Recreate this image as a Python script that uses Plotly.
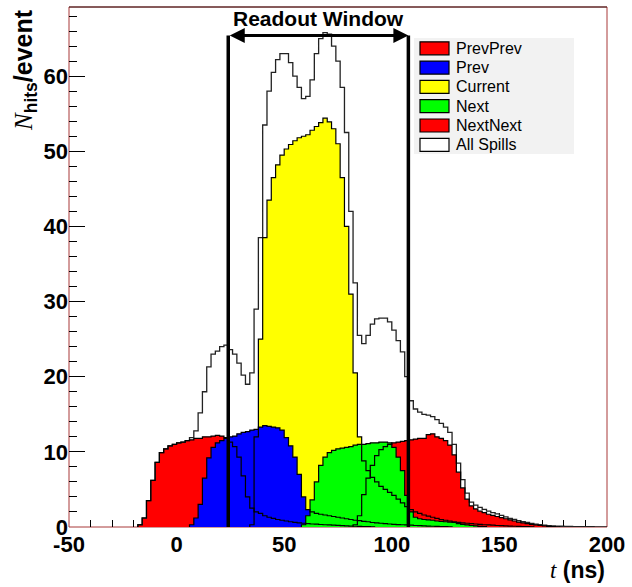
import plotly.graph_objects as go

# ---------------- data (2 ns bins) ----------------
BIN_WIDTH = 2.0
X_RANGE = [-50, 200]
Y_RANGE = [0, 69.2]
X_TICKS = [-50, 0, 50, 100, 150, 200]
Y_TICKS = [0, 10, 20, 30, 40, 50, 60]

series_names = ["PrevPrev", "Prev", "Current", "Next", "NextNext", "All Spills"]
series_colors = ["#ff0000", "#0000ff", "#ffff00", "#00ff00", "#ff0000", "#ffffff"]

prevprev_start = -18
prevprev = [0.3, 1.2, 3.5, 6.2, 8.6, 9.9, 10.4, 10.8, 11.0, 11.2, 11.3, 11.5, 11.6, 11.8, 11.8,
            12.0, 12.0, 12.1, 12.2, 12.1, 11.9, 11.3, 10.7, 9.3, 6.8, 4.0, 2.5, 2.0, 1.8, 1.5,
            1.3, 1.15, 1.0, 0.9, 0.8, 0.7, 0.62, 0.55, 0.5, 0.45, 0.4, 0.37, 0.33, 0.3, 0.27,
            0.24, 0.21, 0.18, 0.15, 0.12, 0.1, 0.08, 0.06, 0.04, 0.02]

prev_start = 6
prev = [0.3, 1.2, 3.0, 6.5, 9.2, 10.6, 11.2, 11.5, 11.8, 12.0, 12.1, 12.4, 12.6, 12.7, 12.9,
        13.0, 13.3, 13.5, 13.4, 13.3, 13.2, 12.9, 11.9, 10.8, 9.3, 7.0, 4.0, 2.3, 2.0, 1.8,
        1.7, 1.6, 1.5, 1.4, 1.3, 1.2, 1.1, 1.0, 0.9, 0.85, 0.75, 0.7, 0.6, 0.55, 0.5, 0.45,
        0.4, 0.36, 0.32, 0.3, 0.27, 0.24, 0.2, 0.17, 0.15, 0.12, 0.1, 0.08, 0.06, 0.04, 0.02]

current_start = 34
current = [0.3, 12.0, 25.0, 38.5, 43.5, 46.5, 48.2, 49.5, 50.3, 50.9, 51.4, 51.8, 52.0, 52.2,
           52.8, 53.3, 53.8, 54.4, 53.9, 53.0, 51.0, 46.5, 40.0, 31.0, 20.5, 12.0, 8.8, 7.5,
           6.6, 6.0, 5.4, 5.0, 4.6, 4.2, 3.7, 3.2, 2.7, 2.3, 2.0, 1.8, 1.6, 1.45, 1.3, 1.15,
           1.0, 0.9, 0.8, 0.7, 0.62, 0.55, 0.5, 0.45, 0.4, 0.35, 0.3, 0.27, 0.24, 0.2, 0.17,
           0.14, 0.12, 0.1, 0.08, 0.06, 0.04, 0.02]

next_start = 58
next_ = [0.3, 1.5, 3.6, 6.0, 8.2, 9.3, 9.9, 10.2, 10.4, 10.5, 10.6, 10.7, 10.9, 11.0, 11.0,
         11.1, 11.2, 11.2, 11.3, 11.3, 11.2, 10.6, 9.3, 7.5, 4.2, 2.0, 1.3, 1.1, 1.0, 0.95,
         0.9, 0.8, 0.75, 0.7, 0.65, 0.6, 0.45, 0.35, 0.28, 0.2, 0.14, 0.08, 0.04]

nextnext_start = 82
nextnext = [0.3, 1.5, 4.3, 6.5, 8.2, 9.5, 10.3, 10.7, 11.0, 11.2, 11.3, 11.4, 11.5, 11.6, 11.7,
            11.8, 11.8, 12.3, 12.4, 12.0, 11.8, 11.5, 10.9, 9.6, 7.3, 5.2, 3.7, 2.8, 2.4, 2.1,
            1.9, 1.7, 1.55, 1.4, 1.25, 1.1, 0.95, 0.8, 0.65, 0.55, 0.45, 0.35, 0.27, 0.2,
            0.14, 0.09, 0.05, 0.02]

allspills_start = -18
allspills = [0.3, 1.2, 3.5, 6.2, 8.6, 9.9, 10.4, 10.8, 11.0, 11.2, 11.3, 11.5, 11.9, 12.8, 15.2,
             18.0, 21.3, 23.0, 23.4, 24.0, 24.2, 23.6, 23.0, 21.8, 20.2, 19.0, 20.5, 29.0, 38.5,
             53.5, 58.0, 60.5, 62.2, 63.0, 63.0, 61.8, 60.0, 58.5, 57.0, 57.3, 59.5, 63.0, 65.0,
             65.8, 65.6, 64.0, 62.0, 58.5, 52.5, 42.0, 32.5, 25.5, 24.4, 25.5, 27.0, 27.7, 27.8,
             27.8, 27.3, 26.2, 24.8, 23.3, 20.0, 16.8, 15.7, 15.3, 15.0, 14.9, 14.7, 14.3, 13.8,
             13.3, 12.6, 11.0, 8.5, 6.3, 4.5, 3.3, 2.9, 2.6, 2.35, 2.1, 1.9, 1.75, 1.55, 1.35,
             1.15, 1.0, 0.85, 0.72, 0.6, 0.48, 0.38, 0.3, 0.24, 0.19, 0.15, 0.12, 0.1, 0.08,
             0.07, 0.06, 0.05, 0.04, 0.03, 0.03, 0.02, 0.02, 0.01]

readout_window = [24.0, 107.7]
readout_top = 65.4
readout_label = "Readout Window"

# ---------------- helpers ----------------
def step_xy(start, vals):
    xs, ys = [start], [0.0]
    for i, v in enumerate(vals):
        xs.append(start + i * BIN_WIDTH)
        ys.append(v)
    end = start + len(vals) * BIN_WIDTH
    xs += [end, end]
    ys += [vals[-1], 0.0]
    return xs, ys

hists = {
    "PrevPrev": (prevprev_start, prevprev),
    "Prev": (prev_start, prev),
    "Current": (current_start, current),
    "Next": (next_start, next_),
    "NextNext": (nextnext_start, nextnext),
    "All Spills": (allspills_start, allspills),
}
color_of = dict(zip(series_names, series_colors))

fig = go.Figure()

# fills (drawing order as in the original)
for name in ["Current", "PrevPrev", "NextNext", "Prev", "Next"]:
    xs, ys = step_xy(*hists[name])
    fig.add_trace(go.Scatter(x=xs, y=ys, mode="lines", line=dict(width=0, shape="hv"),
                             fill="tozeroy", fillcolor=color_of[name], showlegend=False,
                             hoverinfo="skip"))

# outlines on top
xs, ys = step_xy(*hists["All Spills"])
fig.add_trace(go.Scatter(x=xs, y=ys, mode="lines", line=dict(width=1.3, color="#222222", shape="hv"),
                         showlegend=False, hoverinfo="skip"))
for name in ["PrevPrev", "NextNext", "Current", "Prev", "Next"]:
    xs, ys = step_xy(*hists[name])
    fig.add_trace(go.Scatter(x=xs, y=ys, mode="lines", line=dict(width=1.2, color="black", shape="hv"),
                             showlegend=False, hoverinfo="skip"))

# ---------------- layout ----------------
W, H = 632, 587
ML, MR, MT, MB = 69, 25, 7, 60
PW, PH = W - ML - MR, H - MT - MB

def px_x(px):
    return (px - ML) / PW

def px_y(py):
    return (MT + PH - py) / PH

shapes = []
annotations = []

# frame
shapes.append(dict(type="rect", xref="paper", yref="paper", x0=0, x1=1, y0=0, y1=1,
                   line=dict(color="#a83838", width=1), layer="below"))
shapes.append(dict(type="line", xref="paper", yref="paper", x0=0, x1=1, y0=1, y1=1,
                   line=dict(color="#3a1a1a", width=1), layer="below"))

# readout window lines
for xw in readout_window:
    shapes.append(dict(type="line", xref="x", yref="y", x0=xw, x1=xw, y0=0, y1=readout_top,
                       line=dict(color="black", width=3.5), layer="above"))

annotations.append(dict(x=readout_window[1], y=readout_top, ax=readout_window[0], ay=readout_top,
                        xref="x", yref="y", axref="x", ayref="y", text="", showarrow=True,
                        arrowhead=2, startarrowhead=2, arrowside="end+start", arrowsize=1,
                        startarrowsize=1, arrowwidth=3, arrowcolor="black"))
annotations.append(dict(x=(readout_window[0] + readout_window[1]) / 2, y=px_y(18), xref="x", yref="paper",
                        text="<b>" + readout_label + "</b>", showarrow=False,
                        font=dict(family="Liberation Sans", size=21, color="black"),
                        xanchor="center", yanchor="middle"))

# legend (manual, ROOT style)
shapes.append(dict(type="rect", xref="paper", yref="paper", x0=px_x(414), x1=px_x(574),
                   y0=px_y(154), y1=px_y(38), fillcolor="#f2f2f2", line=dict(width=0), layer="above"))
for i, (name, col) in enumerate(zip(series_names, series_colors)):
    yc = 48.3 + i * 19.3
    shapes.append(dict(type="rect", xref="paper", yref="paper", x0=px_x(420), x1=px_x(449),
                       y0=px_y(yc + 6.5), y1=px_y(yc - 6.5), fillcolor=col,
                       line=dict(color="black", width=1.2), layer="above"))
    annotations.append(dict(x=px_x(454), y=px_y(yc), xref="paper", yref="paper", text=name,
                            showarrow=False, xanchor="left", yanchor="middle",
                            font=dict(family="Liberation Sans", size=16, color="black")))

# axis titles
annotations.append(dict(x=px_x(25), y=1.0, xref="paper", yref="paper", textangle=-90,
                        text="<span style='font-family:Liberation Serif'><i>N</i></span>"
                             "<sub><b>hits</b></sub><b>/event</b>",
                        showarrow=False, xanchor="center", yanchor="top",
                        font=dict(family="Liberation Sans", size=25, color="black")))
annotations.append(dict(x=1.0, y=px_y(570), xref="paper", yref="paper",
                        text="<span style='font-family:Liberation Serif'><i>t</i></span> <b>(ns)</b>",
                        showarrow=False, xanchor="right", yanchor="middle",
                        font=dict(family="Liberation Sans", size=23, color="black")))

tickfont = dict(family="Liberation Sans", size=22, color="black", weight="bold")

fig.update_layout(
    width=W, height=H,
    margin=dict(l=ML, r=MR, t=MT, b=MB, pad=0),
    paper_bgcolor="white", plot_bgcolor="white",
    showlegend=False,
    shapes=shapes, annotations=annotations,
    xaxis=dict(range=X_RANGE, tickvals=X_TICKS, ticktext=[str(v) for v in X_TICKS],
               ticks="inside", ticklen=14, tickwidth=1, tickcolor="black",
               minor=dict(dtick=10, tick0=0, ticks="inside", ticklen=7, tickwidth=1, tickcolor="black"),
               showgrid=False, zeroline=False, showline=False, tickfont=tickfont,
               ticklabelstandoff=2, automargin=False,
               layer="below traces", fixedrange=True),
    yaxis=dict(range=Y_RANGE, tickvals=Y_TICKS, ticktext=[str(v) for v in Y_TICKS],
               ticks="inside", ticklen=16, tickwidth=1, tickcolor="black",
               minor=dict(dtick=2, tick0=0, ticks="inside", ticklen=8, tickwidth=1, tickcolor="black"),
               showgrid=False, zeroline=False, showline=False, tickfont=tickfont,
               automargin=False,
               layer="below traces", fixedrange=True),
)

fig.write_html("out.html", config={"displayModeBar": False},
               post_script="document.body.style.margin='0px';document.body.style.overflow='hidden';")
